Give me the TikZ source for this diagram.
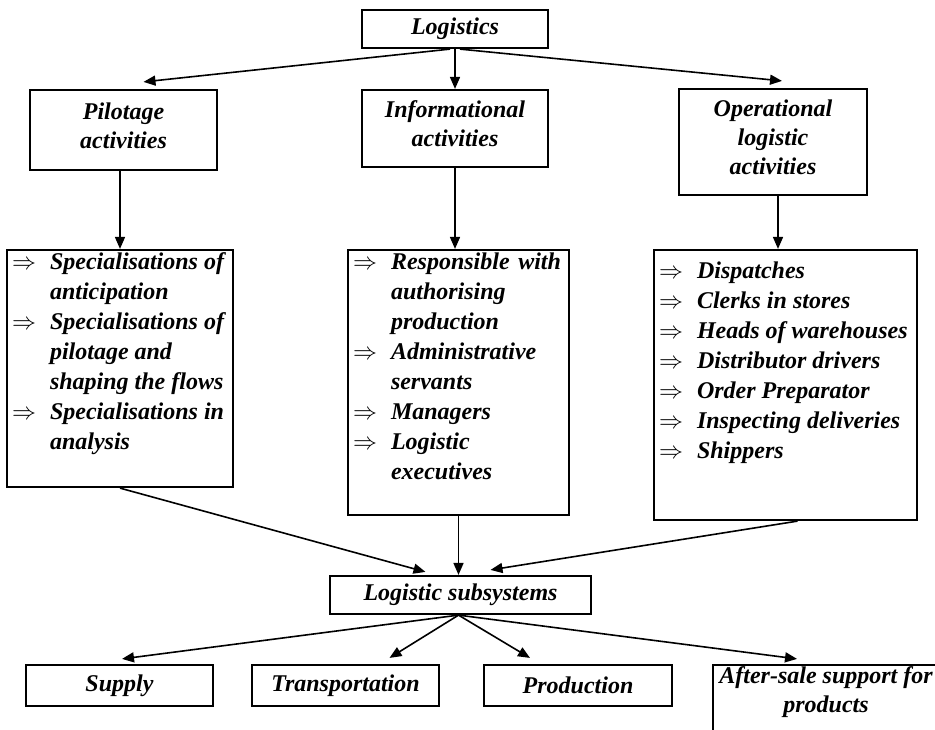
\documentclass[tikz,border=0pt]{standalone}
\usepackage{fontspec}
\setmainfont{Liberation Serif}
\usetikzlibrary{arrows.meta}
\newcommand{\tbox}[4]% width, height, first baseline, text
{\begin{minipage}[c][#2][t]{#1}\centering\rule{0pt}{#3}#4\end{minipage}}
\newcommand{\duty}[1]% one item of a list
{\par\noindent\hangindent=21.5pt\hangafter=1\makebox[21.5pt][l]{\hspace{2.5pt}$\Rightarrow$}#1}
\newcommand{\dutybox}[4]% width, height, top gap, items
{\begin{minipage}[c][#2][t]{#1}\vspace*{#3}#4\end{minipage}}

\begin{document}
\begin{tikzpicture}[x=0.5pt,y=-0.5pt,
	block/.style={draw,line width=1.1pt,inner sep=0pt,
		font=\fontsize{12}{14.5}\selectfont\bfseries\itshape},
	listblock/.style={draw,line width=1.1pt,inner sep=0pt,
		font=\fontsize{12}{15}\selectfont\bfseries\itshape},
	link/.style={-{Triangle[length=6pt,width=5pt]},line width=0.8pt}]
	\useasboundingbox (0,0) rectangle (935,729);
	% top
	\node[block,minimum width=93pt,minimum height=19pt] (logi) at (455,29) {Logistics};
	% activities
	\node[block] (pilot) at (123.5,130) {\tbox{93.5pt}{40pt}{14.5pt}{Pilotage\\ activities}};
	\node[block] (info) at (455,128.5) {\tbox{93pt}{38.5pt}{13.5pt}{Informational\\ activities}};
	\node[block] (oper) at (773,142) {\tbox{94pt}{53pt}{13.5pt}{Operational\\ logistic\\ activities}};
	% lists
	\node[listblock] (pilotlist) at (120,368.5) {\dutybox{113pt}{118.5pt}{1.2pt}{%
		\duty{Specialisations of\\ anticipation}%
		\duty{Specialisations of\\ pilotage and\\ shaping the flows}%
		\duty{Specialisations in\\ analysis}}};
	\node[listblock] (infolist) at (458.5,382.5) {\dutybox{110.5pt}{132.5pt}{1.2pt}{%
		\duty{\hbox to 85pt{Responsible\hfill with}\\ authorising\\ production}%
		\duty{Administrative\\ servants}%
		\duty{Managers}%
		\duty{Logistic\\ executives}}};
	\node[listblock] (operlist) at (785.5,385) {\dutybox{131.5pt}{135pt}{5.7pt}{%
		\duty{Dispatches}\duty{Clerks in stores}\duty{Heads of warehouses}%
		\duty{Distributor drivers}\duty{Order Preparator}%
		\duty{Inspecting deliveries}\duty{Shippers}}};
	% subsystems
	\node[block,minimum width=130.5pt,minimum height=19pt] (subsys) at (460.5,595) {Logistic subsystems};
	\node[block,minimum width=93.5pt,minimum height=20.5pt] (supply) at (119.5,685.5) {Supply};
	\node[block,minimum width=93.5pt,minimum height=20.5pt] (transp) at (345.5,685.5) {Transportation};
	\node[block,minimum width=94pt,minimum height=20.5pt] (prod) at (578,685.5) {Production};
	\node[block] (after) at (826,701) {\tbox{113pt}{36pt}{9pt}{After-sale support for\\ products}};
	% arrows
	\draw[link] ([xshift=-2.5pt]logi.south) -- ([shift={(20,-7)}]pilot.north);
	\draw[link] (logi.south) -- (info.north);
	\draw[link] ([xshift=2.5pt]logi.south) -- ([shift={(9,-7)}]oper.north);
	\draw[link] (pilotlist.north |- pilot.south) -- (pilotlist.north);
	\draw[link] (info.south) -- (info.south |- infolist.north);
	\coordinate (operdrop) at ([xshift=2.5pt]oper.south);
	\draw[link] (operdrop) -- (operdrop |- operlist.north);
	\draw[link] (pilotlist.south) -- ([shift={(-35,-3)}]subsys.north);
	\draw[link] (infolist.south) -- (infolist.south |- subsys.north);
	\draw[link] ([xshift=6pt]operlist.south) -- ([shift={(30,-5)}]subsys.north);
	\draw[link] ([xshift=-1pt]subsys.south) -- ([shift={(2.5,-5)}]supply.north);
	\draw[link] ([xshift=-1pt]subsys.south) -- ([shift={(44,-6)}]transp.north);
	\draw[link] ([xshift=-1pt]subsys.south) -- ([shift={(-48,-6)}]prod.north);
	\draw[link] ([xshift=-1pt]subsys.south) -- ([shift={(-29,-5)}]after.north);
\end{tikzpicture}
\end{document}
